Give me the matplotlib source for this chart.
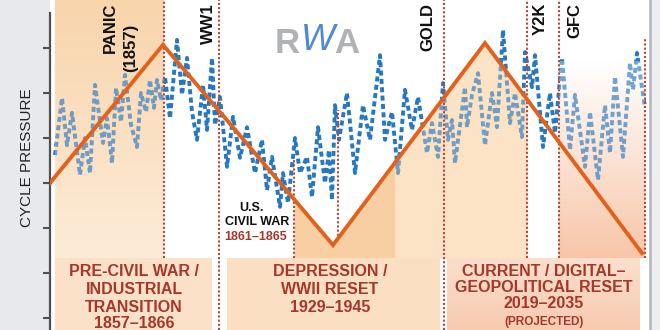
import numpy as np
import matplotlib
matplotlib.use("Agg")
import matplotlib.pyplot as plt
from matplotlib.colors import LinearSegmentedColormap
from matplotlib.patches import Rectangle

plt.rcParams['font.family'] = ['Liberation Sans', 'DejaVu Sans']

# cycle pressure (blue dashed series)
pressure_x = [1.0, 2.4, 3.4, 4.4, 6.0, 7.0, 8.0, 9.0, 10.6, 11.4, 12.4, 13.2, 14.2, 15.0,
              16.2, 17.4, 18.2, 19.2, 20.0, 20.8, 21.4, 22.2, 23.0, 24.0, 25.4, 26.4, 27.4,
              28.4, 29.4, 30.6, 31.4, 32.4, 33.0, 34.0, 35.4, 36.6, 38.0, 39.4, 41.0, 42.4,
              43.4, 44.4, 46.0, 46.6, 47.6, 49.0, 50.0, 51.4, 52.4, 53.6, 55.0, 55.8, 56.4,
              57.0, 57.8, 59.4, 61.0, 62.6, 64.0, 66.0, 67.0, 68.4, 69.6, 71.0, 72.4, 73.6,
              75.4, 76.4, 77.6, 78.6, 79.6, 80.4, 81.0, 83.0, 83.4, 84.4, 85.6, 87.0, 88.4,
              89.4, 90.6, 92.0, 93.0, 94.4, 95.0, 96.4, 97.0, 98.6, 100.0, 101.0, 102.4,
              104.0, 105.0, 107.0, 108.0, 109.6, 111.0, 112.0, 113.0, 114.6, 116.0, 116.6,
              117.4, 119.0]
pressure_y = [3.62, 4.89, 3.84, 4.56, 3.18, 4.00, 3.22, 5.18, 3.89, 4.44, 3.44, 5.11, 4.36, 5.40,
              4.29, 3.80, 5.00, 4.58, 5.29, 4.67, 5.29, 4.84, 5.36, 4.44, 6.18, 4.96, 5.78,
              4.58, 3.96, 5.18, 4.18, 5.78, 4.29, 4.91, 3.36, 4.47, 3.56, 4.24, 3.22, 3.96,
              2.84, 3.58, 2.47, 3.22, 2.56, 4.00, 3.22, 3.58, 2.69, 4.24, 3.00, 3.73, 2.62,
              4.73, 3.96, 5.00, 3.22, 4.73, 3.96, 5.84, 3.96, 4.58, 3.22, 5.07, 4.18, 4.91,
              3.67, 4.33, 3.58, 5.22, 3.96, 4.40, 3.44, 5.13, 4.24, 4.96, 5.44, 3.84, 5.00,
              4.24, 6.40, 4.33, 5.00, 4.02, 5.91, 5.13, 5.84, 3.80, 5.00, 4.11, 5.78,
              3.73, 4.96, 3.36, 4.58, 3.07, 4.73, 3.67, 5.36, 3.58, 5.67, 5.07,
              5.89, 4.67]

# long-wave cycle (orange)
trend_x = [0.0, 22.6, 56.6, 87.0, 118.4]
trend_y = [3.00, 6.07, 1.62, 6.11, 1.44]

# event markers: x position, y range of the dotted line
event_x = [22.8, 33.8, 48.8, 57.6, 78.8, 95.4, 101.8, 119.0]
event_ymin = [1.33, -0.27, 1.33, 1.73, -0.27, 1.33, 1.33, 1.33]
event_ymax = [7.07, 7.07, 3.51, 4.62, 7.07, 7.07, 7.07, 6.22]

top_labels = ["PANIC", "(1857)", "WW1", "GOLD", "Y2K", "GFC"]
top_label_px = [110, 131, 208, 428, 540, 575]
top_label_py = [3, 24, 3, 3, 3, 3]

box_lines = [["PRE-CIVIL WAR /", "INDUSTRIAL", "TRANSITION", "1857–1866"],
             ["DEPRESSION /", "WWII RESET", "1929–1945"],
             ["CURRENT / DIGITAL–", "GEOPOLITICAL RESET", "2019–2035"]]
box_center_px = [134, 330, 544]
box_line_py = [[271, 289, 307, 324], [271, 289, 307], [271, 288, 303]]

W, H = 660, 330
BOX_TOP = 1.333
Y0, Y1 = -0.267, 7.067
DARKRED = '#a5382b'


def fp(x, y):
    return x / W, 1 - y / H


def vgrad(ax, x0, x1, y0, y1, c_bot, c_top, z, alpha=1.0):
    cmap = LinearSegmentedColormap.from_list('g', [c_bot, c_top])
    ax.imshow(np.linspace(0, 1, 100).reshape(-1, 1), cmap=cmap, extent=[x0, x1, y0, y1],
              origin='lower', aspect='auto', zorder=z, alpha=alpha, interpolation='bilinear')


def under_trend(ax, x0, x1, color, z, alpha=1.0):
    xs = np.linspace(x0, x1, 60)
    ys = np.interp(xs, trend_x, trend_y)
    ax.fill_between(xs, BOX_TOP, ys, color=color, lw=0, zorder=z, alpha=alpha)


fig = plt.figure(figsize=(6.6, 3.3), dpi=100)
fig.patches.append(Rectangle((0, 0), 50 / W, 1, transform=fig.transFigure,
                             color='#e7e9ec', zorder=-1))
fig.patches.append(Rectangle((652 / W, 0), 8 / W, 1, transform=fig.transFigure,
                             color='#eceef0', zorder=-1))

ax = fig.add_axes([50 / W, 0, 600 / W, 1])

# shaded eras (drawn below, then again as a light veil above the blue series)
for z, a in [(1, 1.0), (3, 0.35)]:
    vgrad(ax, 1.0, 22.8, BOX_TOP, Y1, '#fdebd9', '#f8d5ab', z, a)
    under_trend(ax, 48.8, 69.0, '#f8cfa3', z, a)
    under_trend(ax, 69.0, 95.4, '#fde3c6', z, a)
    vgrad(ax, 101.8, 119.0, BOX_TOP, 5.7, '#f7c6a8', '#ffffff', z, a)

ax.plot(pressure_x, pressure_y, color='#2878c0', lw=2.8, ls=(0, (1.3, 0.85)),
        solid_capstyle='butt', dash_capstyle='butt', zorder=2)

ax.vlines(event_x, event_ymin, event_ymax, colors='#b8463a', lw=1.5,
          linestyles=(0, (1, 1)), zorder=4)

ax.plot(trend_x, trend_y, color='#e2611c', lw=2.8, solid_joinstyle='miter', zorder=5)

# era boxes at the bottom
ax.add_patch(Rectangle((1.0, Y0), 31.4, BOX_TOP - Y0, color='#fbe1c7', lw=0, zorder=6))
ax.add_patch(Rectangle((35.4, Y0), 42.6, BOX_TOP - Y0, color='#fbdfc3', lw=0, zorder=6))
vgrad(ax, 79.4, 118.0, Y0, BOX_TOP, '#f7cbb0', '#fbdfcc', 6)

ax.set_xlim(0, 120)
ax.set_ylim(Y0, Y1)
ax.set_xticks([])
ax.set_yticks(range(7))
ax.tick_params(axis='y', length=5, width=1.5, color='#505050', labelleft=False)
for s in ['top', 'bottom']:
    ax.spines[s].set_visible(False)
ax.spines['left'].set_bounds(Y0, 6.78)
ax.spines['left'].set_color('#505050')
ax.spines['left'].set_linewidth(1.6)
ax.spines['right'].set_color('#b8bcc2')
ax.spines['right'].set_linewidth(2)

fig.text(*fp(27, 158), "CYCLE PRESSURE", rotation=90, ha='center', va='center',
         fontsize=11, color='#222222')

for lab, x, y in zip(top_labels, top_label_px, top_label_py):
    fig.text(*fp(x, y), lab, rotation=90, ha='center', va='top', fontsize=12,
             fontweight='bold', color='#111111', zorder=8)

# logo
fig.text(*fp(287, 53), "R", ha='center', va='baseline', fontsize=25, fontweight='bold',
         color='#b0b2b5')
fig.text(*fp(318, 50), "W", ha='center', va='baseline', fontsize=26, color='#5088d2',
         fontstyle='italic')
fig.text(*fp(347, 53), "A", ha='center', va='baseline', fontsize=25, fontweight='bold',
         color='#b0b2b5')

fig.text(*fp(251, 208), "U.S.", ha='center', va='center', fontsize=9,
         fontweight='bold', color='#111111')
fig.text(*fp(257, 222), "CIVIL WAR", ha='center', va='center', fontsize=9,
         fontweight='bold', color='#111111')
fig.text(*fp(256, 237), "1861–1865", ha='center', va='center', fontsize=9,
         fontweight='bold', color=DARKRED)

for lines, cx, ys in zip(box_lines, box_center_px, box_line_py):
    for t, y in zip(lines, ys):
        fig.text(*fp(cx, y), t, ha='center', va='center', fontsize=11.5,
                 fontweight='bold', color=DARKRED, zorder=8)
fig.text(*fp(544, 322), "(PROJECTED)", ha='center', va='center', fontsize=8.5,
         fontweight='bold', color=DARKRED, zorder=8)

fig.savefig('out.png', dpi=100)
